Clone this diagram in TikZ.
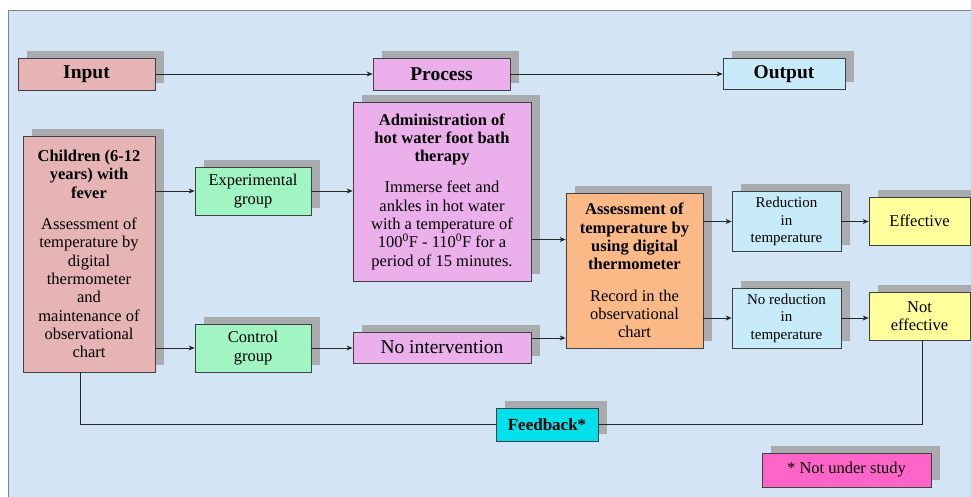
\documentclass[tikz,border=0pt]{standalone}
\usepackage{fontspec}
\setmainfont{Liberation Serif}
\usetikzlibrary{arrows.meta, shadows, calc}
\definecolor{bgblue}{HTML}{D3E5F5}
\definecolor{framegray}{HTML}{7F8285}
\definecolor{shadowgray}{HTML}{A9ABAE}
\definecolor{inputpink}{HTML}{E6B4B4}
\definecolor{procviolet}{HTML}{EBAFEB}
\definecolor{outcyan}{HTML}{C8EBFA}
\definecolor{groupgreen}{HTML}{A0F5C3}
\definecolor{assessorange}{HTML}{FAB987}
\definecolor{resyellow}{HTML}{FFFF9B}
\definecolor{feedcyan}{HTML}{00E1EB}
\definecolor{notepink}{HTML}{FF64C8}
\def\shx{9pt}
\def\shy{7pt}
\def\gap{13pt}
\tikzset{
    block/.style = {
        draw=black!75, line width=0.8pt, rectangle, align=center, inner sep=0pt,
        font=\fontsize{16.5}{18.3}\selectfont,
        general shadow={shadow xshift=\shx, shadow yshift=\shy, fill=shadowgray}
    },
    big/.style = {font=\fontsize{19.5}{21}\selectfont},
    small/.style = {font=\fontsize{15}{17.5}\selectfont},
    link/.style = {line width=0.8pt, draw=black!85, -{Stealth[length=6pt, width=5pt]}},
    loop/.style = {line width=0.8pt, draw=black!85}
}

\begin{document}
\begin{tikzpicture}[x=1pt, y=-1pt]
    \useasboundingbox (0,0) rectangle (971,497);
    % background
    \fill[bgblue] (8,11) rectangle (971,497);
    \draw[framegray, line width=1pt] (8,497) -- (8,11) -- (971,11);

    % Place the blocks
    \node[block, big, fill=inputpink, minimum width=137, minimum height=32] (input) at (86.5,74) {\textbf{Input}};
    \node[block, big, fill=procviolet, minimum width=137, minimum height=32] (process) at (441.5,74) {\textbf{Process}};
    \node[block, big, fill=outcyan, minimum width=122, minimum height=31] (output) at (784,74) {\textbf{Output}};

    \node[block, fill=inputpink, minimum width=132, minimum height=236] (child) at (89,254)
        {\textbf{Children (6-12}\\ \textbf{years) with}\\ \textbf{fever}\\[\gap]
         Assessment of\\ temperature by\\ digital\\ thermometer\\ and\\ maintenance of\\ observational\\ chart};
    \node[block, fill=groupgreen, minimum width=116, minimum height=48] (expgroup) at (253,191) {Experimental\\ group};
    \node[block, fill=groupgreen, minimum width=116, minimum height=48] (ctrlgroup) at (253,348) {Control\\ group};

    \node[block, fill=procviolet, minimum width=178, minimum height=179] (admin) at (442,191.5)
        {\textbf{Administration of}\\ \textbf{hot water foot bath}\\ \textbf{therapy}\\[\gap]
         Immerse feet and\\ ankles in hot water\\ with a temperature of\\
         100\textsuperscript{0}F - 110\textsuperscript{0}F for a\\ period of 15 minutes.};
    \node[block, big, fill=procviolet, minimum width=178, minimum height=31] (nointerv) at (442,347.5) {No intervention};

    \node[block, fill=assessorange, minimum width=137, minimum height=155] (assess) at (634.5,270.5)
        {\textbf{Assessment of}\\ \textbf{temperature by}\\ \textbf{using digital}\\ \textbf{thermometer}\\[\gap]
         Record in the\\ observational\\ chart};

    \node[block, small, fill=outcyan, minimum width=109, minimum height=60] (reduc) at (786.5,221.5) {Reduction\\ in\\ temperature};
    \node[block, small, fill=outcyan, minimum width=109, minimum height=60] (noreduc) at (786.5,318) {No reduction\\ in\\ temperature};
    \node[block, fill=resyellow, minimum width=101, minimum height=48] (effective) at (919.5,221) {Effective};
    \node[block, fill=resyellow, minimum width=101, minimum height=48] (noteffective) at (919.5,316) {Not\\ effective};

    \node[block, fill=feedcyan, minimum width=102, minimum height=33, font=\bfseries\fontsize{17}{19}\selectfont] (feedback) at (547,424.5) {Feedback*};
    \node[block, fill=notepink, minimum width=169, minimum height=34] (note) at (846.5,470) {* Not under study};

    % Connect the blocks
    \draw[link] (input) -- (process);
    \draw[link] (process) -- (output);
    \draw[link] (child.east |- expgroup) -- (expgroup);
    \draw[link] (child.east |- ctrlgroup) -- (ctrlgroup);
    \draw[link] (expgroup) -- (expgroup -| admin.west);
    \draw[link] (ctrlgroup) -- (ctrlgroup -| nointerv.west);
    \draw[link] ([yshift=-48pt] admin.east) -- ([yshift=-48pt] admin.east -| assess.west);
    \draw[link] ([yshift=9.5pt] nointerv.east) -- ([yshift=9.5pt] nointerv.east -| assess.west);
    \draw[link] (assess.east |- reduc) -- (reduc);
    \draw[link] (assess.east |- noreduc) -- (noreduc);
    \draw[link] (reduc.east) -- (reduc.east -| effective.west);
    \draw[link] (noreduc.east) -- (noreduc.east -| noteffective.west);

    % Feedback loop
    \draw[loop] ([xshift=-9pt] child.south) |- (feedback.west);
    \draw[loop] ([xshift=2.5pt] noteffective.south) |- (feedback.east);
\end{tikzpicture}
\end{document}
